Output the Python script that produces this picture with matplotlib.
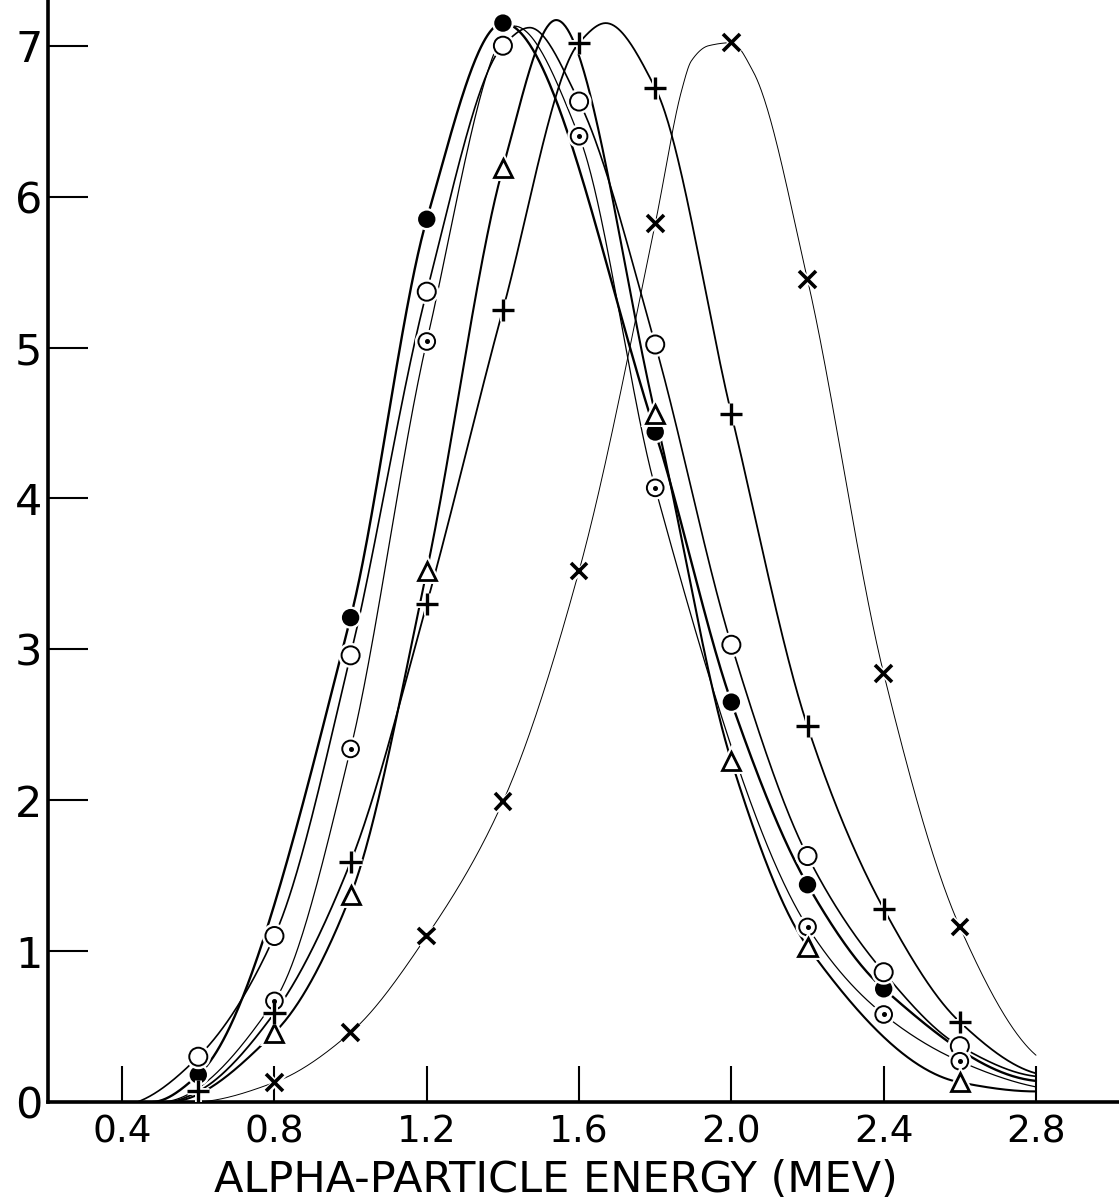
import numpy as np
import matplotlib
matplotlib.use('Agg')
import matplotlib.pyplot as plt
import matplotlib.patheffects as pe

# ---- data (energy in MEV, counts in arbitrary units) ----
# filled circles
filled_x = [0.6, 1.0, 1.2, 1.4, 1.8, 2.0, 2.2, 2.4]
filled_y = [0.18, 3.21, 5.85, 7.15, 4.44, 2.65, 1.44, 0.75]
# open circles
open_x = [0.6, 0.8, 1.0, 1.2, 1.4, 1.6, 1.8, 2.0, 2.2, 2.4, 2.6]
open_y = [0.30, 1.10, 2.96, 5.37, 7.00, 6.63, 5.02, 3.03, 1.63, 0.86, 0.37]
# dotted circles
dot_x = [0.8, 1.0, 1.2, 1.6, 1.8, 2.2, 2.4, 2.6]
dot_y = [0.67, 2.34, 5.04, 6.40, 4.07, 1.16, 0.58, 0.27]
# triangles
tri_x = [0.8, 1.0, 1.2, 1.4, 1.8, 2.0, 2.2, 2.6]
tri_y = [0.46, 1.37, 3.52, 6.19, 4.56, 2.26, 1.03, 0.13]
# plus signs
plus_x = [0.6, 0.8, 1.0, 1.2, 1.4, 1.6, 1.8, 2.0, 2.2, 2.4, 2.6]
plus_y = [0.07, 0.59, 1.59, 3.30, 5.25, 7.02, 6.72, 4.56, 2.49, 1.28, 0.53]
# crosses
cross_x = [0.8, 1.0, 1.2, 1.4, 1.6, 1.8, 2.0, 2.2, 2.4, 2.6]
cross_y = [0.13, 0.46, 1.10, 1.99, 3.52, 5.82, 7.02, 5.45, 2.84, 1.16]

# extra points of the hand-drawn curves (foot, peak, end at 2.8)
filled_curve_x = [0.48, 2.8]
filled_curve_y = [0.0, 0.14]
open_curve_x = [0.44, 1.47, 2.8]
open_curve_y = [0.0, 7.12, 0.17]
dot_curve_x = [0.50, 1.43, 2.8]
dot_curve_y = [0.0, 7.13, 0.10]
tri_curve_x = [0.52, 1.54, 2.8]
tri_curve_y = [0.0, 7.17, 0.07]
plus_curve_x = [0.53, 1.67, 2.8]
plus_curve_y = [0.0, 7.15, 0.19]
cross_curve_x = [0.60, 1.87, 1.895, 1.94, 2.057, 2.8]
cross_curve_y = [0.0, 6.71, 6.90, 7.00, 6.83, 0.31]

x_ticks = [0.4, 0.8, 1.2, 1.6, 2.0, 2.4, 2.8]
x_ticklabels = ['0.4', '0.8', '1.2', '1.6', '2.0', '2.4', '2.8']
y_ticks = [0, 1, 2, 3, 4, 5, 6, 7]


def pchip(xk, yk, xs):
    # monotone cubic through the points, so the drawn curve has no wiggles
    xk = np.asarray(xk, float)
    yk = np.asarray(yk, float)
    h = np.diff(xk)
    d = np.diff(yk) / h
    n = len(xk)
    m = np.zeros(n)
    for i in range(1, n - 1):
        if d[i - 1] * d[i] > 0:
            w1 = 2 * h[i] + h[i - 1]
            w2 = h[i] + 2 * h[i - 1]
            m[i] = (w1 + w2) / (w1 / d[i - 1] + w2 / d[i])

    def edge(h0, h1, d0, d1):
        s = ((2 * h0 + h1) * d0 - h0 * d1) / (h0 + h1)
        if np.sign(s) != np.sign(d0):
            s = 0.0
        elif np.sign(d0) != np.sign(d1) and abs(s) > abs(3 * d0):
            s = 3 * d0
        return s

    m[0] = edge(h[0], h[1], d[0], d[1])
    m[-1] = edge(h[-1], h[-2], d[-1], d[-2])
    idx = np.clip(np.searchsorted(xk, xs) - 1, 0, n - 2)
    t = (xs - xk[idx]) / h[idx]
    h00 = 2 * t**3 - 3 * t**2 + 1
    h10 = t**3 - 2 * t**2 + t
    h01 = -2 * t**3 + 3 * t**2
    h11 = t**3 - t**2
    return (h00 * yk[idx] + h10 * h[idx] * m[idx]
            + h01 * yk[idx + 1] + h11 * h[idx] * m[idx + 1])


def draw_curve(ax, px, py, cx, cy, lw):
    pts = sorted(zip(list(px) + list(cx), list(py) + list(cy)))
    kx = [p[0] for p in pts]
    ky = [p[1] for p in pts]
    xs = np.linspace(kx[0], kx[-1], 800)
    ax.plot(xs, pchip(kx, ky, xs), color='black', lw=lw, zorder=2,
            solid_capstyle='round')


halo = [pe.Stroke(linewidth=5, foreground='white'), pe.Normal()]

fig = plt.figure(figsize=(11.19, 12.02), dpi=100)
ax = fig.add_axes([48 / 1119, 100 / 1202, 1071 / 1119, 1102 / 1202])

draw_curve(ax, filled_x, filled_y, filled_curve_x, filled_curve_y, 1.7)
draw_curve(ax, open_x, open_y, open_curve_x, open_curve_y, 1.2)
draw_curve(ax, dot_x, dot_y, dot_curve_x, dot_curve_y, 0.9)
draw_curve(ax, tri_x, tri_y, tri_curve_x, tri_curve_y, 1.5)
draw_curve(ax, plus_x, plus_y, plus_curve_x, plus_curve_y, 1.3)
draw_curve(ax, cross_x, cross_y, cross_curve_x, cross_curve_y, 0.7)

ax.plot(filled_x, filled_y, 'o', ms=11, mfc='black', mec='black', mew=1.5,
        zorder=4, path_effects=halo)
ax.plot(open_x, open_y, 'o', ms=13, mfc='white', mec='black', mew=1.4,
        zorder=4, path_effects=halo)
ax.plot(dot_x, dot_y, 'o', ms=12, mfc='white', mec='black', mew=1.4,
        zorder=4, path_effects=halo)
ax.plot(dot_x, dot_y, 'o', ms=2.6, mfc='black', mec='black', zorder=5)
ax.plot(tri_x, tri_y, '^', ms=13, mfc='white', mec='black', mew=2.0,
        zorder=4, path_effects=halo)
ax.plot(plus_x, plus_y, '+', ms=16, mec='black', mew=2.4,
        zorder=4, path_effects=halo)
ax.plot(cross_x, cross_y, 'x', ms=12, mec='black', mew=2.6,
        zorder=4, path_effects=halo)

ax.set_xlim(0.2053, 3.018)
ax.set_ylim(0, 7.303)

for side in ['top', 'right']:
    ax.spines[side].set_visible(False)
for side in ['left', 'bottom']:
    ax.spines[side].set_linewidth(2.6)

ax.set_xticks(x_ticks)
ax.set_xticklabels(x_ticklabels)
ax.set_yticks(y_ticks)
ax.tick_params(axis='x', direction='in', length=26, width=1.5, pad=9,
               labelsize=27)
ax.tick_params(axis='y', direction='in', length=29, width=1.5, pad=4,
               labelsize=31)

ax.set_xlabel('ALPHA-PARTICLE ENERGY (MEV)', fontsize=31)
ax.xaxis.set_label_coords(0.474, -0.052)

fig.savefig('out.png', dpi=100, facecolor='white')
